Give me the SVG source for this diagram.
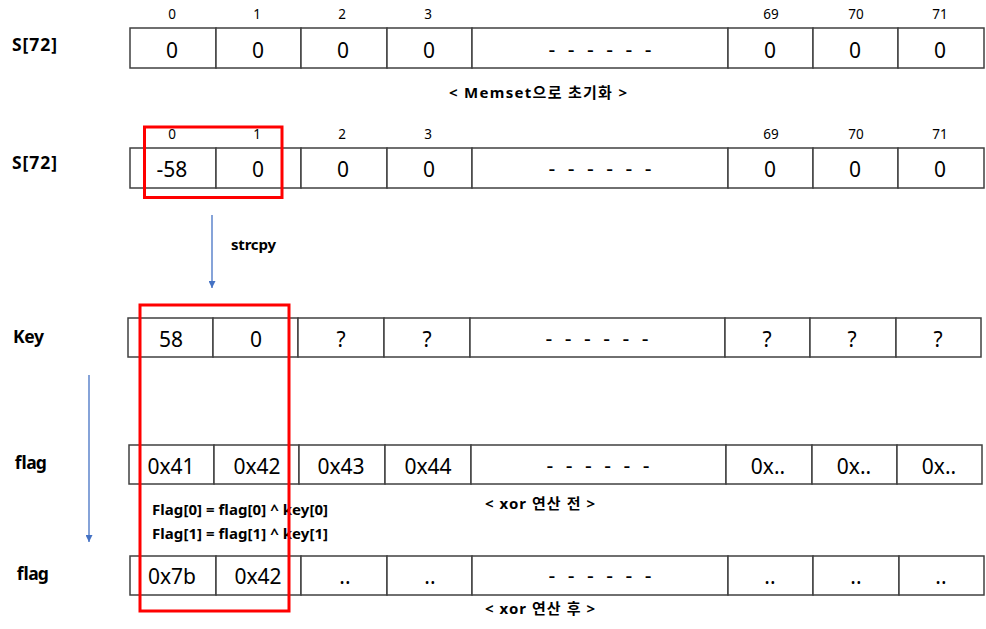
<svg xmlns="http://www.w3.org/2000/svg" width="986" height="629" viewBox="0 0 986 629">
<defs>
<style>
text{font-family:"Noto Sans","Noto Sans CJK KR",sans-serif;fill:#000}
.cell{fill:#fff;stroke:#404040;stroke-width:1.5}
.v{font-size:21px;text-anchor:middle}
.idx{font-size:13.5px;text-anchor:middle}
.lbl{font-size:17.5px;font-weight:bold}
.b{font-size:15px;font-weight:bold}
.dash{font-size:21px;text-anchor:middle;word-spacing:7px}
.hl{fill:none;stroke:#ff0000;stroke-width:3}
.arr{stroke:#4472c4;stroke-width:1.3;fill:none}
</style>
<marker id="ah" viewBox="0 0 10 10" refX="10" refY="5" markerWidth="7" markerHeight="7" markerUnits="userSpaceOnUse" orient="auto">
<path d="M0,0 L10,5 L0,10 z" fill="#4472c4"/>
</marker>
</defs>
<g id="row-s1">
<text class="lbl" x="12" y="51" textLength="45" lengthAdjust="spacing">S[72]</text>
<rect class="cell" x="130" y="28" width="86" height="40"/><rect class="cell" x="216" y="28" width="85" height="40"/><rect class="cell" x="301" y="28" width="86" height="40"/><rect class="cell" x="387" y="28" width="85" height="40"/><rect class="cell" x="472" y="28" width="256" height="40"/><rect class="cell" x="728" y="28" width="85" height="40"/><rect class="cell" x="813" y="28" width="85" height="40"/><rect class="cell" x="898" y="28" width="86" height="40"/>
<text class="idx" x="172" y="19">0</text><text class="idx" x="257" y="19">1</text><text class="idx" x="342" y="19">2</text><text class="idx" x="428" y="19">3</text><text class="idx" x="771" y="19">69</text><text class="idx" x="856" y="19">70</text><text class="idx" x="940" y="19">71</text>
<text class="v" x="172" y="58">0</text><text class="v" x="258" y="58">0</text><text class="v" x="343" y="58">0</text><text class="v" x="429" y="58">0</text><text class="dash" x="600" y="57">- - - - - -</text><text class="v" x="770" y="58">0</text><text class="v" x="855" y="58">0</text><text class="v" x="940" y="58">0</text>
<text class="b" x="449" y="98" textLength="178" lengthAdjust="spacing">&lt; Memset으로 초기화 &gt;</text>
</g>
<g id="row-s2">
<text class="lbl" x="12" y="169" textLength="45" lengthAdjust="spacing">S[72]</text>
<rect class="cell" x="130" y="148" width="86" height="40"/><rect class="cell" x="216" y="148" width="85" height="40"/><rect class="cell" x="301" y="148" width="86" height="40"/><rect class="cell" x="387" y="148" width="85" height="40"/><rect class="cell" x="472" y="148" width="256" height="40"/><rect class="cell" x="728" y="148" width="85" height="40"/><rect class="cell" x="813" y="148" width="85" height="40"/><rect class="cell" x="898" y="148" width="86" height="40"/>
<text class="idx" x="172" y="139">0</text><text class="idx" x="257" y="139">1</text><text class="idx" x="342" y="139">2</text><text class="idx" x="428" y="139">3</text><text class="idx" x="771" y="139">69</text><text class="idx" x="856" y="139">70</text><text class="idx" x="940" y="139">71</text>
<text class="v" x="172" y="177">-58</text><text class="v" x="258" y="177">0</text><text class="v" x="343" y="177">0</text><text class="v" x="429" y="177">0</text><text class="dash" x="600" y="176">- - - - - -</text><text class="v" x="770" y="177">0</text><text class="v" x="855" y="177">0</text><text class="v" x="940" y="177">0</text>
</g>
<g id="row-key">
<text class="lbl" x="13" y="343" textLength="31" lengthAdjust="spacing">Key</text>
<rect class="cell" x="128" y="318" width="85" height="39"/><rect class="cell" x="213" y="318" width="85" height="39"/><rect class="cell" x="298" y="318" width="86" height="39"/><rect class="cell" x="384" y="318" width="86" height="39"/><rect class="cell" x="470" y="318" width="255" height="39"/><rect class="cell" x="725" y="318" width="85" height="39"/><rect class="cell" x="810" y="318" width="86" height="39"/><rect class="cell" x="896" y="318" width="85" height="39"/>
<text class="v" x="171" y="347">58</text><text class="v" x="256" y="347">0</text><text class="v" x="341" y="347">?</text><text class="v" x="427" y="347">?</text><text class="dash" x="597" y="346">- - - - - -</text><text class="v" x="767" y="347">?</text><text class="v" x="852" y="347">?</text><text class="v" x="938" y="347">?</text>
</g>
<g id="row-flag1">
<text class="lbl" x="14" y="469" textLength="32" lengthAdjust="spacing">flag</text>
<rect class="cell" x="129" y="445" width="85" height="39"/><rect class="cell" x="214" y="445" width="85" height="39"/><rect class="cell" x="299" y="445" width="86" height="39"/><rect class="cell" x="385" y="445" width="86" height="39"/><rect class="cell" x="471" y="445" width="255" height="39"/><rect class="cell" x="726" y="445" width="86" height="39"/><rect class="cell" x="812" y="445" width="85" height="39"/><rect class="cell" x="897" y="445" width="85" height="39"/>
<text class="v" x="171" y="474">0x41</text><text class="v" x="257" y="474">0x42</text><text class="v" x="341" y="474">0x43</text><text class="v" x="428" y="474">0x44</text><text class="dash" x="598" y="473">- - - - - -</text><text class="v" x="768" y="474">0x..</text><text class="v" x="854" y="474">0x..</text><text class="v" x="939" y="474">0x..</text>
<text class="b" x="485" y="509" textLength="110" lengthAdjust="spacing">&lt; xor 연산 전 &gt;</text>
</g>
<g id="formula">
<text class="b" x="152" y="515" textLength="176" lengthAdjust="spacing">Flag[0] = flag[0] ^ key[0]</text>
<text class="b" x="152" y="539" textLength="176" lengthAdjust="spacing">Flag[1] = flag[1] ^ key[1]</text>
</g>
<g id="row-flag2">
<text class="lbl" x="16" y="580" textLength="32" lengthAdjust="spacing">flag</text>
<rect class="cell" x="130" y="556" width="86" height="39"/><rect class="cell" x="216" y="556" width="85" height="39"/><rect class="cell" x="301" y="556" width="86" height="39"/><rect class="cell" x="387" y="556" width="85" height="39"/><rect class="cell" x="472" y="556" width="256" height="39"/><rect class="cell" x="728" y="556" width="85" height="39"/><rect class="cell" x="813" y="556" width="86" height="39"/><rect class="cell" x="899" y="556" width="85" height="39"/>
<text class="v" x="172" y="584">0x7b</text><text class="v" x="258" y="584">0x42</text><text class="v" x="345" y="584">..</text><text class="v" x="430" y="584">..</text><text class="dash" x="600" y="583">- - - - - -</text><text class="v" x="770" y="584">..</text><text class="v" x="856" y="584">..</text><text class="v" x="941" y="584">..</text>
<text class="b" x="485" y="614" textLength="110" lengthAdjust="spacing">&lt; xor 연산 후 &gt;</text>
</g>
<g id="highlights">
<rect class="hl" x="144.5" y="127" width="137.5" height="70.5"/>
<rect class="hl" x="140" y="305" width="149" height="306"/>
</g>
<g id="connectors">
<line class="arr" x1="212" y1="215" x2="212" y2="288" marker-end="url(#ah)"/>
<text class="b" x="231" y="250" textLength="45" lengthAdjust="spacing">strcpy</text>
<line class="arr" x1="89" y1="375" x2="89" y2="542" marker-end="url(#ah)"/>
</g>
</svg>
